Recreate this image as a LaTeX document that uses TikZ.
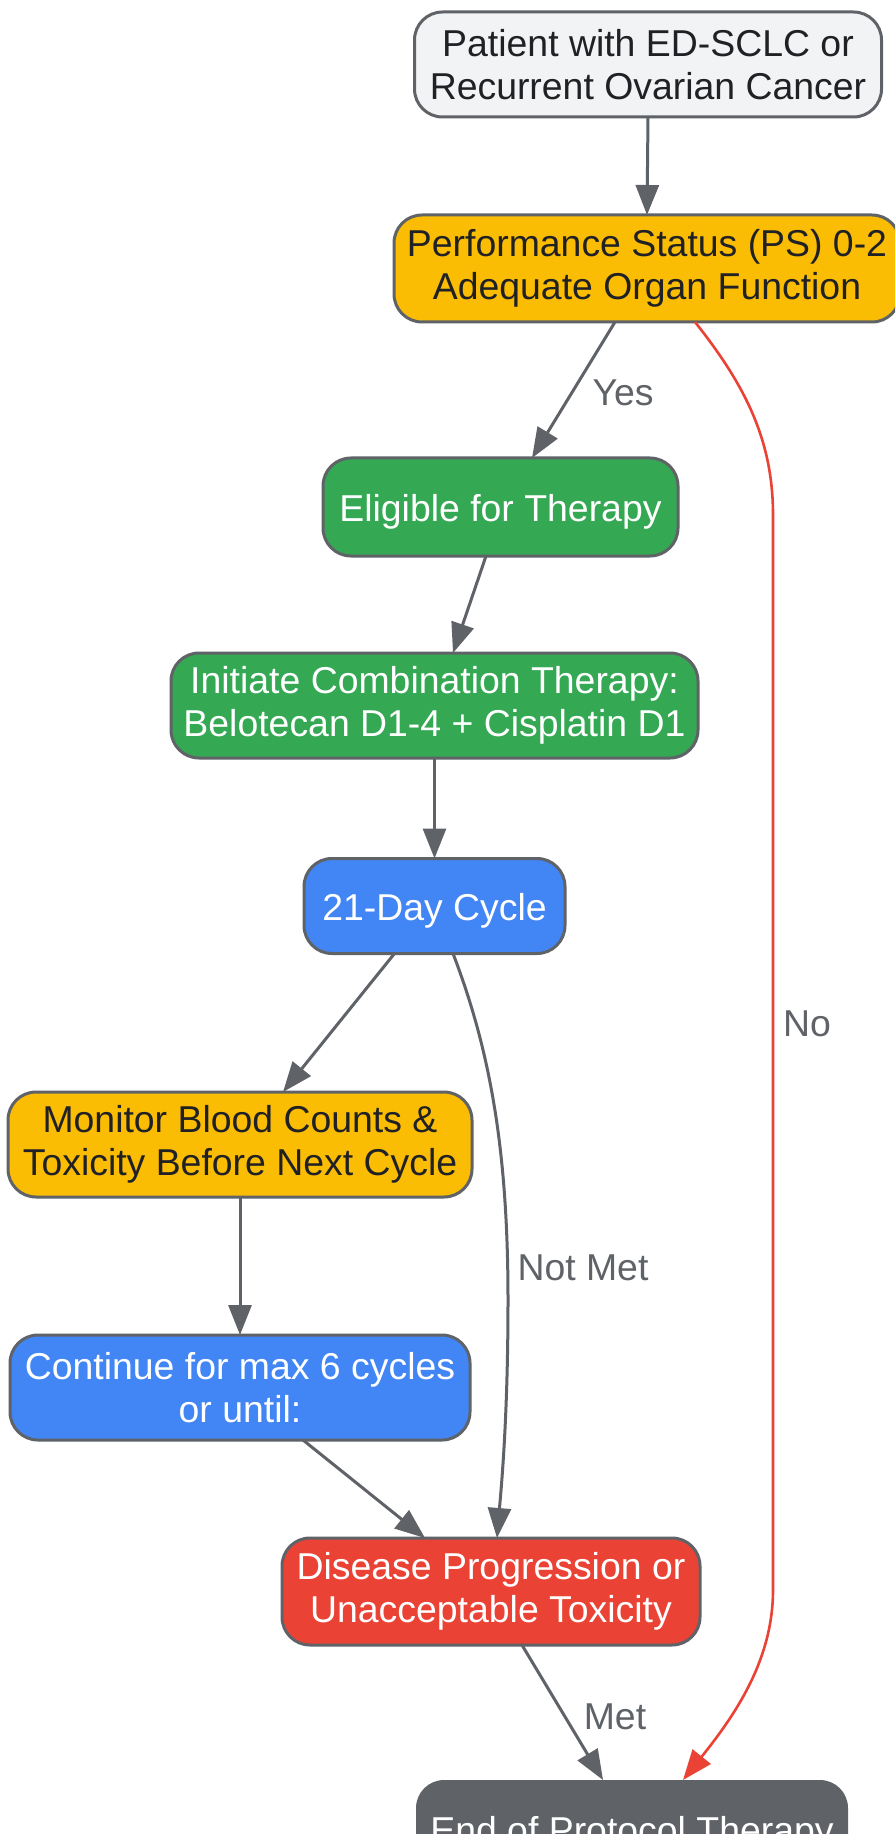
\documentclass[tikz,border=0pt]{standalone}
\usepackage{fontspec}
\setmainfont{Liberation Sans}
\usetikzlibrary{arrows.meta}
\definecolor{edgegray}{HTML}{5F6368}
\definecolor{inkdark}{HTML}{202124}
\definecolor{paleGray}{HTML}{F1F3F4}
\definecolor{gYellow}{HTML}{FBBC04}
\definecolor{gGreen}{HTML}{34A853}
\definecolor{gBlue}{HTML}{4285F4}
\definecolor{gRed}{HTML}{EA4335}
\tikzset{
  box/.style={draw=edgegray, line width=1.5pt, rounded corners=14pt, align=center,
    inner sep=0pt, outer sep=0pt, font=\fontsize{18.7}{21.5}\selectfont,
    execute at begin node={\rule{0pt}{18.5pt}}},
  startbox/.style={box, fill=paleGray, text=inkdark},
  checkbox/.style={box, fill=gYellow, text=inkdark},
  okbox/.style={box, fill=gGreen, text=white},
  cyclebox/.style={box, fill=gBlue, text=white},
  stopbox/.style={box, fill=gRed, text=white},
  endbox/.style={box, draw=none, fill=edgegray, text=white},
  flow/.style={draw=edgegray, line width=1.5pt, -{Triangle[length=15pt,width=11.5pt]}},
  noflow/.style={draw=gRed, line width=1.3pt, -{Triangle[length=15pt,width=11.5pt]}},
  lbl/.style={text=edgegray, inner sep=0pt, font=\fontsize{18.7}{21.5}\selectfont}
}
\begin{document}
\begin{tikzpicture}[x=0.5pt, y=-0.5pt]
  \useasboundingbox (0,0) rectangle (895,1834);
  \clip (0,0) rectangle (895,1834);
  \fill[white] (0,0) rectangle (895,1834);

  % boxes
  \node[startbox, minimum width=233.5pt, minimum height=52.5pt] (patient) at (648,64.5)
    {Patient with ED-SCLC or\\Recurrent Ovarian Cancer};
  \node[checkbox, minimum width=253pt, minimum height=53.5pt] (ps) at (647,268.5)
    {Performance Status (PS) 0-2\\Adequate Organ Function};
  \node[okbox, minimum width=177.5pt, minimum height=49pt] (elig) at (500.5,507)
    {Eligible for Therapy};
  \node[okbox, minimum width=263.5pt, minimum height=52.5pt] (init) at (434.5,705.5)
    {Initiate Combination Therapy:\\Belotecan D1-4 + Cisplatin D1};
  \node[cyclebox, minimum width=130.5pt, minimum height=47.5pt] (cycle) at (434.5,906)
    {21-Day Cycle};
  \node[checkbox, minimum width=232pt, minimum height=52.5pt] (monitor) at (240,1144.5)
    {Monitor Blood Counts \&\\Toxicity Before Next Cycle};
  \node[cyclebox, minimum width=230pt, minimum height=52.5pt] (cont) at (240,1387.5)
    {Continue for max 6 cycles\\or until:};
  \node[stopbox, minimum width=209pt, minimum height=53.5pt] (disease) at (491,1591.5)
    {Disease Progression or\\Unacceptable Toxicity};
  \node[endbox, minimum width=216pt, minimum height=49pt] (endp) at (632,1829)
    {End of Protocol Therapy};

  % connectors
  \draw[flow] (patient.south) -- (ps.north);
  \draw[flow] ([xshift=-16pt]ps.south) -- ([xshift=15.75pt]elig.north);
  \draw[flow] ([xshift=-7.25pt]elig.south) -- ([xshift=9.25pt]init.north);
  \draw[flow] (init.south) -- (cycle.north);
  \draw[flow] ([xshift=-20pt]cycle.south) -- ([xshift=21.5pt]monitor.north);
  \draw[flow] ([xshift=9.25pt]cycle.south) .. controls (490,1050) and (508,1150) .. (508,1300)
    .. controls (508,1420) and (501,1490) .. ([xshift=3pt]disease.north);
  \draw[flow] (monitor.south) -- (cont.north);
  \draw[flow] ([xshift=31.5pt]cont.south) -- ([xshift=-33pt]disease.north);
  \draw[flow] ([xshift=15.5pt]disease.south) -- ([xshift=-14.5pt]endp.north);
  \draw[noflow] ([xshift=24pt]ps.south) .. controls (745,385) and (773,440) .. (773,515)
    -- (773,1590) .. controls (773,1660) and (735,1715) .. ([xshift=25.5pt]endp.north);

  % labels
  \node[lbl] (yes) at (623,393) {Yes};
  \node[lbl] (no) at (807,1024) {No};
  \node[lbl] (notmet) at (583,1268) {Not Met};
  \node[lbl] (met) at (615,1717) {Met};
\end{tikzpicture}
\end{document}
